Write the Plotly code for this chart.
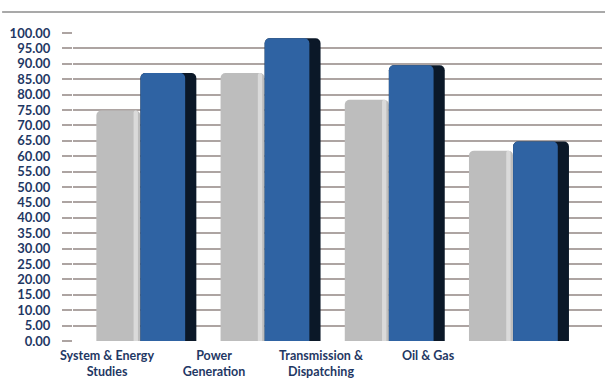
import plotly.graph_objects as go

categories = ["System & Energy<br>Studies", "Power<br>Generation",
              "Transmission &<br>Dispatching", "Oil & Gas"]
series_gray = [74.8, 87.0, 78.3, 61.8]
series_blue = [87.0, 98.3, 89.5, 64.8]
y_ticks = [i * 5 for i in range(21)]
y_tick_labels = [f"{v:.2f}" for v in y_ticks]

cat_idx = list(range(len(categories)))
label_color = "#1F3864"
grid_color = "#ADA4A2"

fig = go.Figure()
# gray bars
fig.add_trace(go.Bar(x=cat_idx, y=series_gray, offset=-0.355, width=0.355,
                     marker=dict(color="#BDBDBD", line=dict(width=0)),
                     hoverinfo="skip", showlegend=False))
# gray highlight strip
fig.add_trace(go.Bar(x=cat_idx, y=series_gray, offset=-0.055, width=0.035,
                     marker=dict(color="#DADADA", line=dict(width=0)),
                     hoverinfo="skip", showlegend=False))
# blue shadow
fig.add_trace(go.Bar(x=cat_idx, y=series_blue, offset=0.0, width=0.45,
                     marker=dict(color="#0B1828", line=dict(width=0)),
                     hoverinfo="skip", showlegend=False))
# blue bars
fig.add_trace(go.Bar(x=cat_idx, y=series_blue, offset=0.0, width=0.36,
                     marker=dict(color="#2F63A3", line=dict(width=0)),
                     hoverinfo="skip", showlegend=False))

fig.update_layout(
    width=605, height=383,
    margin=dict(l=73, r=3, t=33, b=42),
    paper_bgcolor="white", plot_bgcolor="white",
    barmode="overlay", barcornerradius=5,
    showlegend=False,
    font=dict(family="Lato", size=13, color=label_color),
    xaxis=dict(range=[-0.543, 3.716], showticklabels=False, showgrid=False,
               zeroline=False, showline=False, ticks="", tickvals=cat_idx,
               automargin=False),
    xaxis2=dict(overlaying="x", anchor="y", side="bottom",
                range=[-0.318, 4.626], tickvals=cat_idx, ticktext=categories,
                showgrid=False, zeroline=False, showline=False, ticks="",
                ticklabelstandoff=5, automargin=False,
                tickfont=dict(family="Lato", size=12.5, color=label_color, weight="bold")),
    yaxis=dict(range=[0, 100], tickvals=y_ticks, ticktext=y_tick_labels,
               showgrid=True, gridcolor=grid_color, gridwidth=2,
               zeroline=False, showline=False,
               ticks="outside", ticklen=10, tickwidth=2, tickcolor=grid_color,
               ticklabelstandoff=9, automargin=False,
               tickfont=dict(family="Lato", size=13, color=label_color, weight="bold")),
    shapes=[dict(type="line", xref="paper", yref="paper",
                 x0=-0.134, x1=1.006, y0=1.068, y1=1.068,
                 line=dict(color="#8C8C8C", width=1.5))],
)
# dummy invisible trace so xaxis2 is rendered
fig.add_trace(go.Scatter(x=cat_idx, y=[None] * len(cat_idx), xaxis="x2", yaxis="y",
                         mode="markers", hoverinfo="skip", showlegend=False))

fig.write_html("out.html")
